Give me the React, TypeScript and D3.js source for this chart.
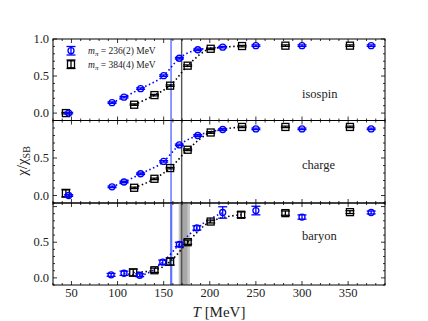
import * as d3 from "d3";

const W = 428;
const H = 321;
const LEFT = 53;
const RIGHT = 385;
// panel rows: [top, bottom, yMin, yMax]
const PANELS = [
  { top: 39, bottom: 120.5, dom: [-0.1, 1.0], name: "isospin", labels: [0, 0.5, 1.0] },
  { top: 120.5, bottom: 203, dom: [-0.1, 1.0], name: "charge", labels: [0, 0.5] },
  { top: 203, bottom: 285, dom: [-0.1, 1.05], name: "baryon", labels: [0, 0.5] },
];
const FONT = "'Liberation Serif', 'DejaVu Serif', serif";
const BLUE = "#0000ff";
const BLACK = "#000000";

// temperatures (MeV)
const tBlue = [47, 94, 107, 125, 150, 167, 187, 214, 250, 300, 375];
const tBlack = [44, 118, 140, 157, 176, 201, 235, 282, 352];
const tBaryonBlue = [93, 107, 124, 149, 167, 186, 214, 250, 300, 375];
const tBaryonBlack = [117, 140, 157, 176, 201, 234, 282, 352];

// isospin
const isoBlue = [0.0, 0.14, 0.215, 0.33, 0.505, 0.74, 0.855, 0.89, 0.91, 0.91, 0.91];
const isoBlueErr = [0.01, 0.01, 0.01, 0.01, 0.01, 0.01, 0.01, 0.01, 0.01, 0.01, 0.01];
const isoBlack = [0.0, 0.113, 0.243, 0.37, 0.64, 0.868, 0.905, 0.91, 0.91];
const isoBlackErr = [0.01, 0.01, 0.01, 0.01, 0.01, 0.01, 0.01, 0.01, 0.01];
// charge
const chBlue = [0.0, 0.116, 0.18, 0.29, 0.455, 0.674, 0.8, 0.88, 0.888, 0.888, 0.888];
const chBlueErr = [0.01, 0.01, 0.01, 0.01, 0.01, 0.01, 0.01, 0.01, 0.01, 0.01, 0.01];
const chBlack = [0.03, 0.103, 0.223, 0.366, 0.61, 0.84, 0.914, 0.914, 0.914];
const chBlackErr = [0.05, 0.01, 0.01, 0.01, 0.01, 0.01, 0.01, 0.01, 0.01];
// baryon
const baBlue = [0.042, 0.065, 0.037, 0.22, 0.47, 0.7, 0.917, 0.944, 0.853, 0.917];
const baBlueErr = [0.02, 0.03, 0.02, 0.03, 0.03, 0.03, 0.08, 0.06, 0.03, 0.02];
const baBlack = [0.075, 0.107, 0.228, 0.5, 0.79, 0.885, 0.908, 0.922];
const baBlackErr = [0.05, 0.03, 0.05, 0.03, 0.02, 0.04, 0.03, 0.02];

// which points the dotted fit runs through
const FIT_BLUE = [94, 214];
const FIT_BLACK = [117, 235];

// pseudo-critical temperatures
const TC_BLUE = 158;
const TC_BLACK = 169.5;
const TC_BLUE_BAND = [157, 159.5];
const TC_BLACK_BAND = [166.3, 178.6];
const TC_BLACK_INNER = [167.8, 175.8];

const xTicks = [50, 100, 150, 200, 250, 300, 350];

const series = [
  [
    { t: tBlue, v: isoBlue, e: isoBlueErr, c: BLUE, m: "circle" },
    { t: tBlack, v: isoBlack, e: isoBlackErr, c: BLACK, m: "square" },
  ],
  [
    { t: tBlue, v: chBlue, e: chBlueErr, c: BLUE, m: "circle" },
    { t: tBlack, v: chBlack, e: chBlackErr, c: BLACK, m: "square" },
  ],
  [
    { t: tBaryonBlue, v: baBlue, e: baBlueErr, c: BLUE, m: "circle" },
    { t: tBaryonBlack, v: baBlack, e: baBlackErr, c: BLACK, m: "square" },
  ],
];

const Marker = ({ x, y, y1, y2, color, shape }) => {
  const cap = 4.5;
  return (
    <g stroke={color} strokeWidth={1.3} fill="none">
      <line x1={x} x2={x} y1={y1} y2={y2} />
      <line x1={x - cap} x2={x + cap} y1={y1} y2={y1} />
      <line x1={x - cap} x2={x + cap} y1={y2} y2={y2} />
      {shape === "circle" ? (
        <circle cx={x} cy={y} r={3} />
      ) : (
        <rect x={x - 3.5} y={y - 3.5} width={7} height={7} />
      )}
    </g>
  );
};

export default function App() {
  const x = d3.scaleLinear().domain([30, 390]).range([LEFT, RIGHT]);
  const minorX = d3.range(30, 391, 10);

  return (
    <svg
      width={W}
      height={H}
      style={{ position: "absolute", left: 0, top: 0, background: "#fff" }}
      fontFamily={FONT}
    >
      {PANELS.map((p, pi) => {
        const y = d3.scaleLinear().domain(p.dom).range([p.bottom, p.top]);
        const minorY = d3.range(-0.1, p.dom[1] + 0.001, 0.1).map((d) => +d.toFixed(2));
        const line = d3
          .line()
          .x((d) => x(d[0]))
          .y((d) => y(d[1]))
          .curve(d3.curveMonotoneX);
        const [sb, sk] = series[pi];
        const fitB = sb.t.map((t, i) => [t, sb.v[i]]).filter((d) => d[0] >= FIT_BLUE[0] && d[0] <= FIT_BLUE[1]);
        const fitK = sk.t.map((t, i) => [t, sk.v[i]]).filter((d) => d[0] >= FIT_BLACK[0] && d[0] <= FIT_BLACK[1]);
        return (
          <g key={pi}>
            <defs>
              <clipPath id={`clip${pi}`}>
                <rect x={LEFT} y={p.top} width={RIGHT - LEFT} height={p.bottom - p.top} />
              </clipPath>
            </defs>
            <g clipPath={`url(#clip${pi})`}>
              {pi === 2 && (
                <g>
                  <rect
                    x={x(TC_BLACK_BAND[0])}
                    width={x(TC_BLACK_BAND[1]) - x(TC_BLACK_BAND[0])}
                    y={p.top}
                    height={p.bottom - p.top}
                    fill="#c8c8c8"
                  />
                  <rect
                    x={x(TC_BLACK_INNER[0])}
                    width={x(TC_BLACK_INNER[1]) - x(TC_BLACK_INNER[0])}
                    y={p.top}
                    height={p.bottom - p.top}
                    fill="#a8a8a8"
                  />
                  <rect
                    x={x(TC_BLUE_BAND[0])}
                    width={x(TC_BLUE_BAND[1]) - x(TC_BLUE_BAND[0])}
                    y={p.top}
                    height={p.bottom - p.top}
                    fill="#9aa6ff"
                  />
                </g>
              )}
              <line x1={x(TC_BLUE)} x2={x(TC_BLUE)} y1={p.top} y2={p.bottom} stroke="#3f55ff" strokeWidth={1.2} />
              <line x1={x(TC_BLACK)} x2={x(TC_BLACK)} y1={p.top} y2={p.bottom} stroke="#555" strokeWidth={1.4} />
              <path d={line(fitB)} fill="none" stroke={BLUE} strokeWidth={1.6} strokeDasharray="1.5,2.6" />
              <path d={line(fitK)} fill="none" stroke={BLACK} strokeWidth={1.6} strokeDasharray="1.5,2.6" />
              {[sk, sb].map((s, si) =>
                s.t.map((t, i) => (
                  <Marker
                    key={`${si}-${i}`}
                    x={x(t)}
                    y={y(s.v[i])}
                    y1={y(s.v[i] + s.e[i])}
                    y2={y(s.v[i] - s.e[i])}
                    color={s.c}
                    shape={s.m}
                  />
                ))
              )}
            </g>
            {/* frame */}
            <rect
              x={LEFT}
              y={p.top}
              width={RIGHT - LEFT}
              height={p.bottom - p.top}
              fill="none"
              stroke="#000"
              strokeWidth={1}
            />
            {/* x ticks, inward top and bottom */}
            {minorX.map((t) => {
              const len = t % 50 === 0 ? 4 : 2;
              return (
                <g key={t} stroke="#000" strokeWidth={0.8}>
                  <line x1={x(t)} x2={x(t)} y1={p.bottom} y2={p.bottom - len} />
                  <line x1={x(t)} x2={x(t)} y1={p.top} y2={p.top + len} />
                </g>
              );
            })}
            {/* y ticks */}
            {minorY.map((v) => {
              const major = Math.abs(v * 2 - Math.round(v * 2)) < 1e-6;
              const len = major ? 4 : 2;
              return (
                <g key={v} stroke="#000" strokeWidth={0.8}>
                  <line x1={LEFT} x2={LEFT + len} y1={y(v)} y2={y(v)} />
                  <line x1={RIGHT} x2={RIGHT - len} y1={y(v)} y2={y(v)} />
                </g>
              );
            })}
            {p.labels.map((v) => (
              <text key={v} x={49} y={y(v) + 4} textAnchor="end" fontSize={12.5} fill="#222">
                {v.toFixed(1)}
              </text>
            ))}
            <text x={302} y={[98, 169, 240][pi]} fontSize={12.5} fill="#222">
              {p.name}
            </text>
          </g>
        );
      })}

      {xTicks.map((t) => (
        <text key={t} x={x(t)} y={297} textAnchor="middle" fontSize={12.5} fill="#222">
          {t}
        </text>
      ))}

      {/* axis titles */}
      <text x={219} y={317} textAnchor="middle" fontSize={15} fill="#222">
        <tspan fontStyle="italic">T</tspan> [MeV]
      </text>
      <text transform="translate(27,161) rotate(-90)" textAnchor="middle" fontSize={15} fill="#222">
        χ/χ<tspan fontSize={10} dy={3}>SB</tspan>
      </text>

      {/* legend */}
      <Marker x={71} y={50.7} y1={46.5} y2={55} color={BLUE} shape="circle" />
      <Marker x={71} y={64.3} y1={60} y2={68.5} color={BLACK} shape="square" />
      <text x={88} y={54} fontSize={9.5} fill="#222">
        <tspan fontStyle="italic">m</tspan>
        <tspan fontSize={7} fontStyle="italic" dy={2}>π</tspan>
        <tspan dy={-2}> = 236(2) MeV</tspan>
      </text>
      <text x={88} y={67.5} fontSize={9.5} fill="#222">
        <tspan fontStyle="italic">m</tspan>
        <tspan fontSize={7} fontStyle="italic" dy={2}>π</tspan>
        <tspan dy={-2}> = 384(4) MeV</tspan>
      </text>
    </svg>
  );
}
